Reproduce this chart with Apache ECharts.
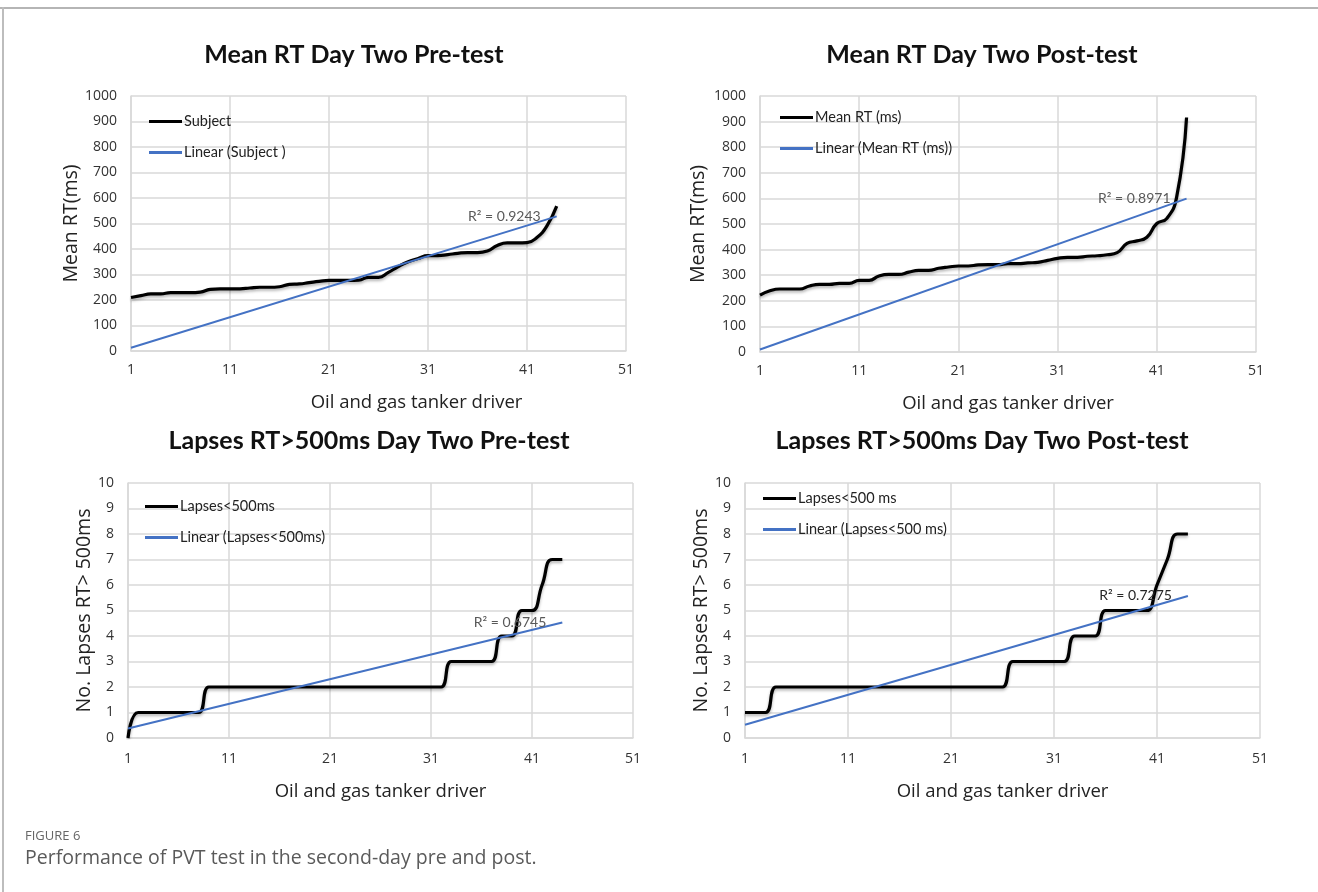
<!DOCTYPE html>
<html><head><meta charset="utf-8">
<script src="https://cdn.jsdelivr.net/npm/echarts@6/dist/echarts.min.js"></script>
<style>html,body{margin:0;padding:0;background:#fff}#c{width:1318px;height:892px}</style>
</head><body><div id="c"></div>
<script>
// ---------- data ----------
const xCats = ['1','2','3','4','5','6','7','8','9','10','11','12','13','14','15','16','17','18','19','20','21','22','23','24','25','26','27','28','29','30','31','32','33','34','35','36','37','38','39','40','41','42','43','44','45','46','47','48','49','50','51'];
const yTicksRT = [0, 1000, 100];      // min, max, step
const yTicksLapse = [0, 10, 1];

const preRT = [210,217,224,224,229,229,229,231,242,244,244,244,247,250,250,252,261,263,268,273,277,277,277,278,289,289,308,331,350,363,374,374,378,383,386,386,392,414,424,424,425,445,490,568];
const trendPreRT = [13, 528];
const postRT = [222,239,246,246,246,258,264,264,268,268,280,280,297,303,303,312,319,319,327,332,336,336,340,341,341,345,345,348,350,358,366,370,370,374,376,380,388,424,434,448,502,521,605,916];
const trendPostRT = [10, 599];
const preLapses = [0,1,1,1,1,1,1,1,2,2,2,2,2,2,2,2,2,2,2,2,2,2,2,2,2,2,2,2,2,2,2,2,3,3,3,3,3,4,4,5,5,6,7,7];
const trendPreLapses = [0.37, 4.53];
const postLapses = [1,1,1,2,2,2,2,2,2,2,2,2,2,2,2,2,2,2,2,2,2,2,2,2,2,2,3,3,3,3,3,3,4,4,4,5,5,5,5,5,6,7,8,8];
const trendPostLapses = [0.52, 5.57];

const titles = ['Mean RT Day Two Pre-test','Mean RT Day Two Post-test','Lapses RT>500ms Day Two Pre-test','Lapses RT>500ms Day Two Post-test'];
const seriesNames = [['Subject','Linear (Subject )'],['Mean RT (ms)','Linear (Mean RT (ms))'],['Lapses<500ms','Linear (Lapses<500ms)'],['Lapses<500 ms','Linear (Lapses<500 ms)']];
const r2Labels = ['R² = 0.9243','R² = 0.8971','R² = 0.6745','R² = 0.7275'];
const yNames = ['Mean RT(ms)','Mean RT(ms)','No. Lapses RT> 500ms','No. Lapses RT> 500ms'];
const xName = 'Oil and gas tanker driver';

// ---------- layout ----------
const FONT = 'Lato, "Open Sans", sans-serif';
const AXFONT = '"Open Sans", sans-serif';
const GRID_C = '#d9d9d9';
const panels = [
  {grid:{left:131, top:96, width:495, height:255}, data:preRT, trend:trendPreRT, yt:yTicksRT, yGap:50, xGap:42, xMargin:12, xPad:[0,0,0,76], legend:{left:144, top:109}, title:{x:354, y:55}, r2c:'#595959'},
  {grid:{left:760, top:96, width:496, height:256}, data:postRT, trend:trendPostRT, yt:yTicksRT, yGap:52, xGap:42, xMargin:12, xPad:[0,0,0,0], legend:{left:775, top:105}, title:{x:982, y:55}, r2c:'#595959'},
  {grid:{left:128, top:483, width:505, height:255}, data:preLapses, trend:trendPreLapses, yt:yTicksLapse, yGap:34, xGap:44, xMargin:14, xPad:[0,0,0,0], legend:{left:140, top:494}, title:{x:369, y:441}, r2c:'#595959'},
  {grid:{left:745, top:483, width:515, height:255}, data:postLapses, trend:trendPostLapses, yt:yTicksLapse, yGap:34, xGap:44, xMargin:14, xPad:[0,0,0,0], legend:{left:758, top:486}, title:{x:982, y:441}, r2c:'#262626'}
];

const option = {
  animation:false,
  backgroundColor:'#fff',
  grid:[], xAxis:[], yAxis:[], series:[], legend:[], graphic:[]
};

option.graphic.push({type:'rect', shape:{x:0,y:7,width:1318,height:2}, style:{fill:'#b5b5b5'}});
option.graphic.push({type:'rect', shape:{x:2,y:7,width:2,height:885}, style:{fill:'#bdbdbd'}});

panels.forEach((p,i)=>{
  option.grid.push(Object.assign({containLabel:false}, p.grid));
  option.xAxis.push({
    gridIndex:i, type:'category', data:xCats, boundaryGap:false,
    axisLine:{show:true, lineStyle:{color:GRID_C, width:1.5}},
    axisTick:{show:false},
    axisLabel:{interval:9, color:'#333', fontSize:14, margin:p.xMargin, fontFamily:AXFONT},
    splitLine:{show:true, interval:9, lineStyle:{color:GRID_C, width:1.5}},
    name:xName, nameLocation:'middle', nameGap:p.xGap,
    nameTextStyle:{fontSize:18.5, color:'#222', fontFamily:AXFONT, padding:p.xPad}
  });
  option.yAxis.push({
    gridIndex:i, type:'value', min:p.yt[0], max:p.yt[1], interval:p.yt[2],
    axisLine:{show:true, lineStyle:{color:GRID_C, width:1.5}},
    axisTick:{show:false},
    axisLabel:{color:'#333', fontSize:14, margin:14, fontFamily:AXFONT, formatter:(v)=>String(v)},
    splitLine:{show:true, lineStyle:{color:GRID_C, width:1.5}},
    name:yNames[i], nameLocation:'middle', nameGap:p.yGap,
    nameTextStyle:{fontSize:19.5, color:'#222', fontFamily:AXFONT}
  });
  option.series.push({
    name:seriesNames[i][0], type:'line', xAxisIndex:i, yAxisIndex:i,
    data:p.data, smooth:0.5, symbol:'none',
    lineStyle:{color:'#000', width:3.2, shadowColor:'rgba(0,0,0,0.3)', shadowBlur:3, shadowOffsetY:2},
    itemStyle:{color:'#000'}, z:3
  });
  const lastCat = xCats[p.data.length-1];
  option.series.push({
    name:seriesNames[i][1], type:'line', xAxisIndex:i, yAxisIndex:i,
    data:[[xCats[0], p.trend[0]], [lastCat, p.trend[1]]], symbol:'none',
    lineStyle:{color:'#4472C4', width:2}, itemStyle:{color:'#4472C4'}, z:4,
    markPoint:{silent:true, symbol:'circle', symbolSize:0,
      data:[{coord:[lastCat, p.trend[1]],
        label:{show:true, position:'left', distance:16, formatter:r2Labels[i], color:p.r2c, fontSize:14, fontFamily:FONT}}]}
  });
  option.legend.push({
    orient:'vertical', left:p.legend.left, top:p.legend.top,
    data:[{name:seriesNames[i][0], icon:'rect', itemStyle:{color:'#000'}},
          {name:seriesNames[i][1], icon:'rect', itemStyle:{color:'#4472C4'}}],
    itemWidth:33, itemHeight:3, itemGap:16,
    textStyle:{color:'#222', fontSize:14.5, fontFamily:FONT, padding:[0,0,0,-3]},
    selectedMode:false
  });
  option.graphic.push({type:'text', style:{text:titles[i], x:p.title.x, y:p.title.y, textAlign:'center', textVerticalAlign:'middle', font:'bold 25px ' + FONT, fill:'#111'}});
});

option.graphic.push({type:'text', style:{text:'FIGURE 6', x:25, y:836, textVerticalAlign:'middle', font:'13px "Open Sans", sans-serif', fill:'#666'}});
option.graphic.push({type:'text', style:{text:'Performance of PVT test in the second-day pre and post.', x:25, y:858, textVerticalAlign:'middle', font:'19.5px "Open Sans", sans-serif', fill:'#5a5a5a'}});

const chart = echarts.init(document.getElementById('c'), null, {renderer:'canvas'});
chart.setOption(option);
</script></body></html>
